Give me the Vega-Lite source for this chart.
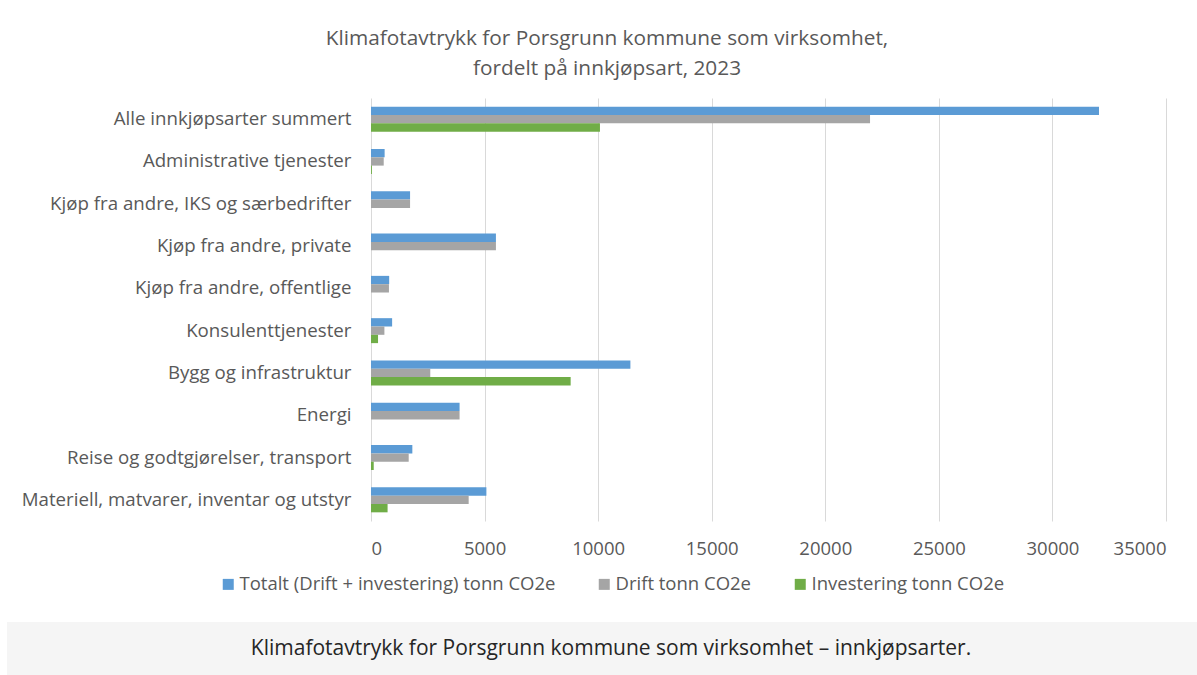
{
  "$schema": "https://vega.github.io/schema/vega-lite/v6.json",
  "padding": {"left": 7, "top": 28, "right": 0, "bottom": 0},
  "background": "#ffffff",
  "spacing": 64,
  "config": {
    "font": "Open Sans",
    "view": {"stroke": null}
  },
  "vconcat": [
    {
      "width": 1190,
      "height": 423,
      "title": {
        "text": ["Klimafotavtrykk for Porsgrunn kommune som virksomhet,", "fordelt på innkjøpsart, 2023"],
        "fontSize": 20.8,
        "fontWeight": "normal",
        "color": "#595959",
        "lineHeight": 30,
        "anchor": "middle",
        "frame": "group",
        "offset": 18,
        "dx": 5
      },
      "data": {
        "values": [
          {"kategori": "Alle innkjøpsarter summert", "serie": "Totalt (Drift + investering) tonn CO2e", "verdi": 32050},
          {"kategori": "Alle innkjøpsarter summert", "serie": "Drift tonn CO2e", "verdi": 21970},
          {"kategori": "Alle innkjøpsarter summert", "serie": "Investering tonn CO2e", "verdi": 10080},
          {"kategori": "Administrative tjenester", "serie": "Totalt (Drift + investering) tonn CO2e", "verdi": 600},
          {"kategori": "Administrative tjenester", "serie": "Drift tonn CO2e", "verdi": 560},
          {"kategori": "Administrative tjenester", "serie": "Investering tonn CO2e", "verdi": 40},
          {"kategori": "Kjøp fra andre, IKS og særbedrifter", "serie": "Totalt (Drift + investering) tonn CO2e", "verdi": 1720},
          {"kategori": "Kjøp fra andre, IKS og særbedrifter", "serie": "Drift tonn CO2e", "verdi": 1720},
          {"kategori": "Kjøp fra andre, IKS og særbedrifter", "serie": "Investering tonn CO2e", "verdi": 0},
          {"kategori": "Kjøp fra andre, private", "serie": "Totalt (Drift + investering) tonn CO2e", "verdi": 5500},
          {"kategori": "Kjøp fra andre, private", "serie": "Drift tonn CO2e", "verdi": 5500},
          {"kategori": "Kjøp fra andre, private", "serie": "Investering tonn CO2e", "verdi": 0},
          {"kategori": "Kjøp fra andre, offentlige", "serie": "Totalt (Drift + investering) tonn CO2e", "verdi": 800},
          {"kategori": "Kjøp fra andre, offentlige", "serie": "Drift tonn CO2e", "verdi": 790},
          {"kategori": "Kjøp fra andre, offentlige", "serie": "Investering tonn CO2e", "verdi": 0},
          {"kategori": "Konsulenttjenester", "serie": "Totalt (Drift + investering) tonn CO2e", "verdi": 930},
          {"kategori": "Konsulenttjenester", "serie": "Drift tonn CO2e", "verdi": 590},
          {"kategori": "Konsulenttjenester", "serie": "Investering tonn CO2e", "verdi": 310},
          {"kategori": "Bygg og infrastruktur", "serie": "Totalt (Drift + investering) tonn CO2e", "verdi": 11420},
          {"kategori": "Bygg og infrastruktur", "serie": "Drift tonn CO2e", "verdi": 2610},
          {"kategori": "Bygg og infrastruktur", "serie": "Investering tonn CO2e", "verdi": 8790},
          {"kategori": "Energi", "serie": "Totalt (Drift + investering) tonn CO2e", "verdi": 3900},
          {"kategori": "Energi", "serie": "Drift tonn CO2e", "verdi": 3900},
          {"kategori": "Energi", "serie": "Investering tonn CO2e", "verdi": 0},
          {"kategori": "Reise og godtgjørelser, transport", "serie": "Totalt (Drift + investering) tonn CO2e", "verdi": 1820},
          {"kategori": "Reise og godtgjørelser, transport", "serie": "Drift tonn CO2e", "verdi": 1660},
          {"kategori": "Reise og godtgjørelser, transport", "serie": "Investering tonn CO2e", "verdi": 120},
          {"kategori": "Materiell, matvarer, inventar og utstyr", "serie": "Totalt (Drift + investering) tonn CO2e", "verdi": 5080},
          {"kategori": "Materiell, matvarer, inventar og utstyr", "serie": "Drift tonn CO2e", "verdi": 4300},
          {"kategori": "Materiell, matvarer, inventar og utstyr", "serie": "Investering tonn CO2e", "verdi": 730}
        ]
      },
      "mark": {"type": "bar"},
      "encoding": {
        "y": {
          "field": "kategori",
          "type": "nominal",
          "sort": ["Alle innkjøpsarter summert", "Administrative tjenester", "Kjøp fra andre, IKS og særbedrifter", "Kjøp fra andre, private", "Kjøp fra andre, offentlige", "Konsulenttjenester", "Bygg og infrastruktur", "Energi", "Reise og godtgjørelser, transport", "Materiell, matvarer, inventar og utstyr"],
          "scale": {"paddingInner": 0.41, "paddingOuter": 0.205},
          "axis": {
            "title": null,
            "ticks": false,
            "domain": false,
            "offset": -364,
            "labelFontSize": 18.7,
            "labelColor": "#595959",
            "labelPadding": 20,
            "labelLimit": 400
          }
        },
        "yOffset": {
          "field": "serie",
          "type": "nominal",
          "sort": ["Totalt (Drift + investering) tonn CO2e", "Drift tonn CO2e", "Investering tonn CO2e"]
        },
        "x": {
          "field": "verdi",
          "type": "quantitative",
          "scale": {"domain": [0, 35000], "nice": false, "range": [364, 1159]},
          "axis": {
            "title": null,
            "values": [0, 5000, 10000, 15000, 20000, 25000, 30000, 35000],
            "format": "d",
            "ticks": false,
            "domain": false,
            "gridColor": "#d9d9d9",
            "labelFontSize": 18.5,
            "labelColor": "#595959",
            "labelPadding": 18
          }
        },
        "color": {
          "field": "serie",
          "type": "nominal",
          "sort": ["Totalt (Drift + investering) tonn CO2e", "Drift tonn CO2e", "Investering tonn CO2e"],
          "scale": {
            "domain": ["Totalt (Drift + investering) tonn CO2e", "Drift tonn CO2e", "Investering tonn CO2e"],
            "range": ["#5b9bd5", "#a5a5a5", "#70ad47"]
          },
          "legend": {
            "title": null,
            "orient": "none",
            "direction": "horizontal",
            "legendX": 212,
            "legendY": 477,
            "symbolType": "square",
            "symbolSize": 121,
            "symbolStrokeWidth": 0,
            "labelFontSize": 18.5,
            "labelColor": "#595959",
            "labelLimit": 500,
            "columnPadding": 39,
            "labelOffset": 2
          }
        }
      }
    },
    {
      "width": 1190,
      "height": 53,
      "view": {"fill": "#f5f5f5", "stroke": null},
      "data": {"values": [{"tekst": "Klimafotavtrykk for Porsgrunn kommune som virksomhet – innkjøpsarter."}]},
      "mark": {"type": "text", "fontSize": 21, "font": "Open Sans", "color": "#262626", "dx": 9},
      "encoding": {"text": {"field": "tekst", "type": "nominal"}}
    }
  ]
}
